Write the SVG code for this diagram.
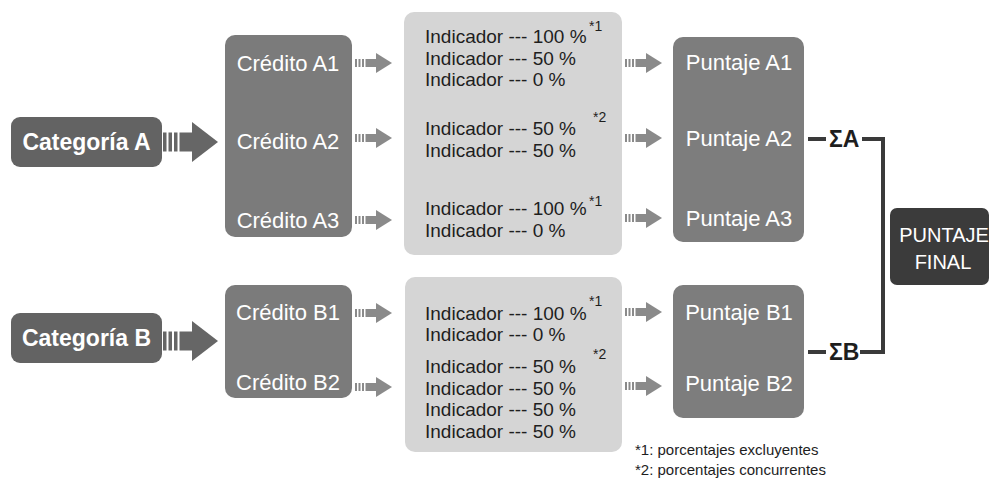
<svg xmlns="http://www.w3.org/2000/svg" width="989" height="478" viewBox="0 0 989 478">
<style>
.cat{fill:#636363}
.cred{fill:#7b7b7b}
.ind{fill:#d5d5d5}
.pun{fill:#7d7d7d}
.fin{fill:#3b3b3b}
.wt{fill:#ffffff;font-family:"Liberation Sans",Arial,sans-serif;font-size:22px;text-anchor:middle}
.cb{fill:#ffffff;font-family:"Liberation Sans",Arial,sans-serif;font-size:23px;font-weight:bold;text-anchor:middle}
.it{fill:#1e1e1e;font-family:"Liberation Sans",Arial,sans-serif;font-size:19px}
.sup{fill:#1e1e1e;font-family:"Liberation Sans",Arial,sans-serif;font-size:14px}
.ft{fill:#1e1e1e;font-family:"Liberation Sans",Arial,sans-serif;font-size:15px}
.sig{fill:#1e1e1e;font-family:"Liberation Sans",Arial,sans-serif;font-size:23px;font-weight:bold}
.ln{stroke:#3a3a3a;stroke-width:4;fill:none}
</style>
<defs>
<g id="sa" fill="#8a8a8a">
<rect x="0" y="-4" width="2" height="8"/>
<rect x="3.5" y="-4" width="2" height="8"/>
<rect x="7" y="-4" width="2" height="8"/>
<rect x="10.5" y="-4" width="12" height="8"/>
<polygon points="21,-10 37,0 21,10"/>
</g>
<g id="ba" fill="#666666">
<rect x="0" y="-9.5" width="3.5" height="19"/>
<rect x="5.5" y="-9.5" width="3.5" height="19"/>
<rect x="11" y="-9.5" width="3.5" height="19"/>
<rect x="16.5" y="-9.5" width="14" height="19"/>
<polygon points="29,-20 55,0 29,20"/>
</g>
</defs>

<g id="categoria-a">
<rect class="cat" x="11" y="117" width="151" height="50" rx="9"/>
<text class="cb" x="86.5" y="150">Categoría A</text>
</g>
<g id="categoria-b">
<rect class="cat" x="11" y="313" width="151" height="50" rx="9"/>
<text class="cb" x="86.5" y="346">Categoría B</text>
</g>

<g id="credito-a">
<rect class="cred" x="225" y="35" width="127" height="202" rx="10"/>
<text class="wt" x="288" y="71">Crédito A1</text>
<text class="wt" x="288" y="149">Crédito A2</text>
<text class="wt" x="288" y="228">Crédito A3</text>
</g>
<g id="credito-b">
<rect class="cred" x="225" y="285" width="127" height="113" rx="10"/>
<text class="wt" x="288" y="320">Crédito B1</text>
<text class="wt" x="288" y="390">Crédito B2</text>
</g>

<g id="indicadores-a">
<rect class="ind" x="404" y="12" width="218" height="243" rx="10"/>
<text class="it" x="425" y="43">Indicador --- 100 %</text>
<text class="sup" x="589" y="31">*1</text>
<text class="it" x="425" y="65">Indicador --- 50 %</text>
<text class="it" x="425" y="86">Indicador --- 0 %</text>
<text class="sup" x="593" y="122">*2</text>
<text class="it" x="425" y="135">Indicador --- 50 %</text>
<text class="it" x="425" y="157">Indicador --- 50 %</text>
<text class="sup" x="589" y="206">*1</text>
<text class="it" x="425" y="215">Indicador --- 100 %</text>
<text class="it" x="425" y="237">Indicador --- 0 %</text>
</g>
<g id="indicadores-b">
<rect class="ind" x="405" y="277" width="217" height="175" rx="10"/>
<text class="sup" x="589" y="306">*1</text>
<text class="it" x="425" y="320">Indicador --- 100 %</text>
<text class="it" x="425" y="341">Indicador --- 0 %</text>
<text class="sup" x="593" y="359">*2</text>
<text class="it" x="425" y="373">Indicador --- 50 %</text>
<text class="it" x="425" y="395">Indicador --- 50 %</text>
<text class="it" x="425" y="416">Indicador --- 50 %</text>
<text class="it" x="425" y="438">Indicador --- 50 %</text>
</g>

<g id="puntaje-a">
<rect class="pun" x="673" y="37" width="131" height="205" rx="10"/>
<text class="wt" x="739" y="70">Puntaje A1</text>
<text class="wt" x="739" y="146">Puntaje A2</text>
<text class="wt" x="739" y="226">Puntaje A3</text>
</g>
<g id="puntaje-b">
<rect class="pun" x="673" y="285" width="131" height="133" rx="10"/>
<text class="wt" x="739" y="320">Puntaje B1</text>
<text class="wt" x="739" y="391">Puntaje B2</text>
</g>

<g id="puntaje-final">
<rect class="fin" x="890" y="208" width="99" height="77" rx="7"/>
<text class="wt" x="944" y="242" style="font-size:20px">PUNTAJE</text>
<text class="wt" x="943" y="269" style="font-size:20px">FINAL</text>
</g>

<g id="notas">
<text class="ft" x="635" y="455">*1: porcentajes excluyentes</text>
<text class="ft" x="635" y="475">*2: porcentajes concurrentes</text>
</g>

<g id="connectors">
<use href="#ba" x="163" y="142"/>
<use href="#ba" x="163" y="341"/>
<use href="#sa" x="355" y="63"/>
<use href="#sa" x="355" y="138"/>
<use href="#sa" x="355" y="220"/>
<use href="#sa" x="355" y="313"/>
<use href="#sa" x="355" y="387"/>
<use href="#sa" x="625" y="63"/>
<use href="#sa" x="625" y="138"/>
<use href="#sa" x="625" y="218"/>
<use href="#sa" x="625" y="312"/>
<use href="#sa" x="625" y="386"/>
<line class="ln" x1="808" y1="139" x2="826" y2="139"/>
<text class="sig" x="829" y="147">ΣA</text>
<line class="ln" x1="862" y1="139" x2="885" y2="139"/>
<line class="ln" x1="808" y1="352" x2="826" y2="352"/>
<text class="sig" x="829" y="360">ΣB</text>
<line class="ln" x1="860" y1="352" x2="885" y2="352"/>
<line class="ln" x1="883" y1="137" x2="883" y2="354"/>
</g>
</svg>
